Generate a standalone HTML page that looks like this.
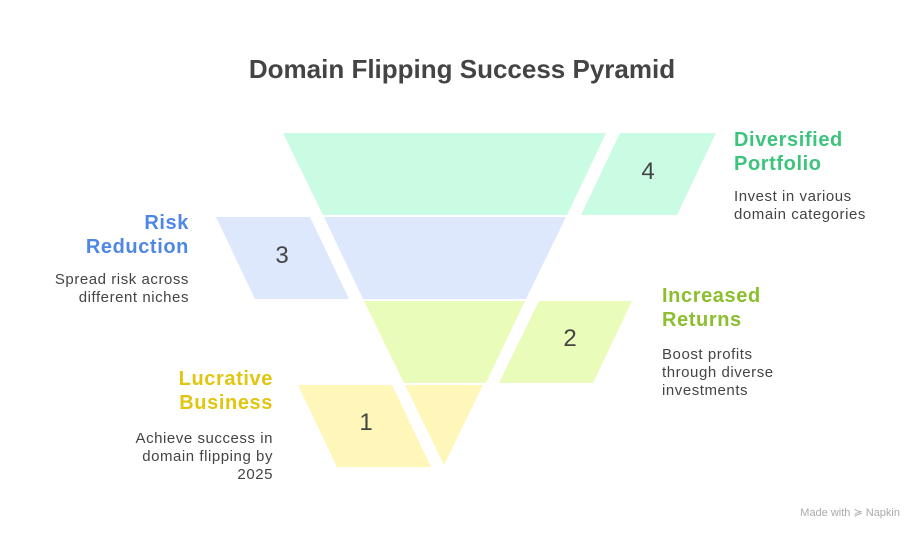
<!DOCTYPE html>
<html><head><meta charset="utf-8"><style>
html,body{margin:0;padding:0;background:#fff;}
svg{display:block;}
text{font-family:"Liberation Sans",sans-serif;}
.h{font-weight:bold;font-size:20px;letter-spacing:0.6px;}
.b{font-size:15px;fill:#444;letter-spacing:0.55px;}
.n{font-size:24px;fill:#444;}
</style></head><body>
<svg width="924" height="540" viewBox="0 0 924 540">
<text x="462" y="78" text-anchor="middle" font-weight="bold" font-size="26" fill="#444">Domain Flipping Success Pyramid</text>
<polygon points="283,133 606,133 567,215 323,215" fill="#c9fce2"/>
<polygon points="324,217 566,217 526,299 363,299" fill="#dde8fd"/>
<polygon points="364,301 525,301 486,383 404,383" fill="#e9fcb9"/>
<polygon points="405,385 483,385 444,465" fill="#fef7b9"/>
<polygon points="620,133 716,133 677,215 581,215" fill="#c9fce2"/>
<polygon points="216,217 310,217 349,299 255,299" fill="#dde8fd"/>
<polygon points="539,301 632,301 593,383 499,383" fill="#e9fcb9"/>
<polygon points="298,385 392,385 431,467 337,467" fill="#fef7b9"/>
<text class="n" x="648" y="179" text-anchor="middle">4</text>
<text class="n" x="282" y="263" text-anchor="middle">3</text>
<text class="n" x="570" y="346" text-anchor="middle">2</text>
<text class="n" x="366" y="430" text-anchor="middle">1</text>
<text class="h" x="734" y="146" fill="#3cc47c">Diversified</text>
<text class="h" x="734" y="170" fill="#3cc47c">Portfolio</text>
<text class="b" x="734" y="201">Invest in various</text>
<text class="b" x="734" y="219">domain categories</text>
<text class="h" x="189" y="229" fill="#4f87e6" text-anchor="end">Risk</text>
<text class="h" x="189" y="253" fill="#4f87e6" text-anchor="end">Reduction</text>
<text class="b" x="189" y="284" text-anchor="end">Spread risk across</text>
<text class="b" x="189" y="302" text-anchor="end">different niches</text>
<text class="h" x="662" y="302" fill="#8bbf2e">Increased</text>
<text class="h" x="662" y="326" fill="#8bbf2e">Returns</text>
<text class="b" x="662" y="359">Boost profits</text>
<text class="b" x="662" y="377">through diverse</text>
<text class="b" x="662" y="395">investments</text>
<text class="h" x="273" y="385" fill="#e0c610" text-anchor="end">Lucrative</text>
<text class="h" x="273" y="409" fill="#e0c610" text-anchor="end">Business</text>
<text class="b" x="273" y="443" text-anchor="end">Achieve success in</text>
<text class="b" x="273" y="461" text-anchor="end">domain flipping by</text>
<text class="b" x="273" y="479" text-anchor="end">2025</text>
<text x="900" y="516" text-anchor="end" font-size="11" fill="#aaa">Made with ≽ Napkin</text>
</svg>
</body></html>
